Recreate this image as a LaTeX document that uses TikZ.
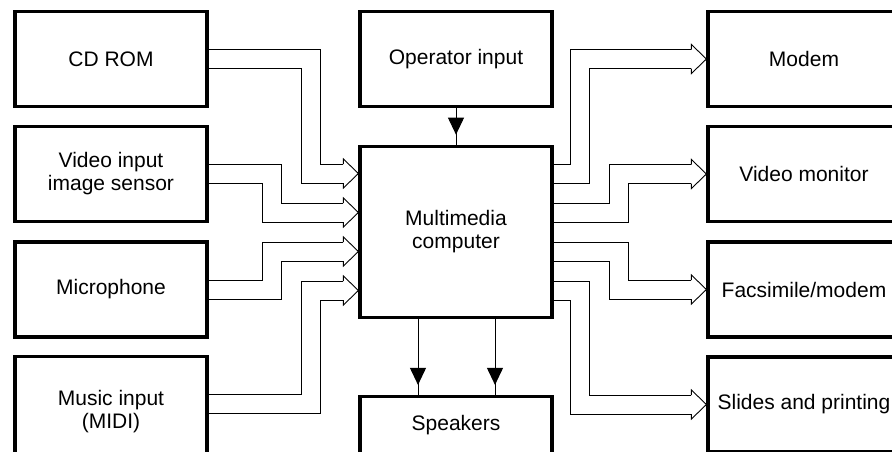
\documentclass[tikz,border=0pt]{standalone}
\usepackage{fontspec}
\setmainfont{Liberation Sans}
\usetikzlibrary{calc,arrows.meta,decorations.markings}
\tikzset{
  unit/.style={draw, line width=3.2pt, minimum width=192pt, minimum height=95pt,
    inner sep=0pt, align=center, font=\fontsize{21}{23}\selectfont},
  wire/.style={line width=0.9pt, line join=miter},
  feed/.style={wire, postaction={decorate}, decoration={markings,
    mark=at position -10pt with {\arrow{Triangle[length=17pt,width=16pt]}}}},
  bushead/.pic={\draw[wire]
    (-15,-9.5) -- (-15,-14.5) -- (0,0) -- (-15,14.5) -- (-15,9.5);}
}
% #1 from, #2 to, #3/#4 xshift of the upper/lower rail's riser from #2
\newcommand\busline[4]{%
  \draw[wire] ([yshift=9.5pt]#1) -| ([xshift=#3pt,yshift=9.5pt]#2)
    -- ([xshift=-15pt,yshift=9.5pt]#2);
  \draw[wire] ([yshift=-9.5pt]#1) -| ([xshift=#4pt,yshift=-9.5pt]#2)
    -- ([xshift=-15pt,yshift=-9.5pt]#2);
  \pic at (#2) {bushead};}
\begin{document}
\begin{tikzpicture}[x=1pt,y=-1pt]
      \useasboundingbox (0,0) rectangle (892,451);
      \clip (0,0) rectangle (892,451);
      \draw
        (111,59) node[unit] (cd){CD ROM}
        (111,174) node[unit] (vid){Video input\\image sensor}
        (111,289.5) node[unit] (mic){Microphone}
        (111,411.5) node[unit, minimum height=110pt] (music){Music input\\(MIDI)}
        (456,59) node[unit] (op){Operator input}
        (456,232) node[unit, minimum height=171.5pt] (mm){Multimedia\\computer}
        (456,425.5) node[unit, minimum height=58pt] (spk){Speakers}
        (804,59) node[unit] (modem){Modem}
        (804,174) node[unit] (vm){Video monitor}
        (804,289.5) node[unit] (fax){Facsimile/modem}
        (804,404.5) node[unit] (slides){Slides and printing};
      \coordinate (musicout) at ([yshift=8pt]music.east);
      \coordinate (in1) at ($(mm.west)+(0,-58.5)$);
      \coordinate (in2) at ($(mm.west)+(0,-19.5)$);
      \coordinate (in3) at ($(mm.west)+(0,19.5)$);
      \coordinate (in4) at ($(mm.west)+(0,58.5)$);
      \coordinate (out1) at ($(mm.east)+(0,-58.5)$);
      \coordinate (out2) at ($(mm.east)+(0,-19.5)$);
      \coordinate (out3) at ($(mm.east)+(0,19.5)$);
      \coordinate (out4) at ($(mm.east)+(0,58.5)$);
      \draw[feed] (op) to (mm);
      \draw[feed] ([xshift=-38pt]mm.south) to ([xshift=-38pt]spk.north);
      \draw[feed] ([xshift=39pt]mm.south) to ([xshift=39pt]spk.north);
      \busline{cd.east}{in1}{-38}{-57}
      \busline{vid.east}{in2}{-77}{-96}
      \busline{mic.east}{in3}{-96}{-77}
      \busline{musicout}{in4}{-57}{-38}
      \busline{out1}{modem.west}{-135.5}{-116.5}
      \busline{out2}{vm.west}{-97}{-78}
      \busline{out3}{fax.west}{-78}{-97}
      \busline{out4}{slides.west}{-116.5}{-135.5}
    \end{tikzpicture}
\end{document}
